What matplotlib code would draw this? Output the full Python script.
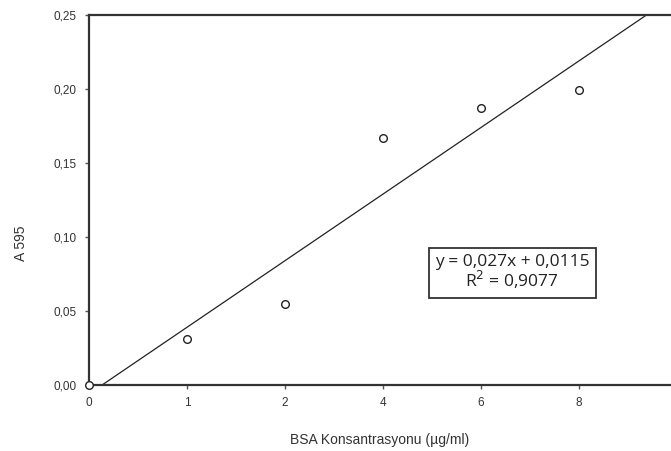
import numpy as np
import matplotlib
matplotlib.use("Agg")
import matplotlib.pyplot as plt

plt.rcParams['font.family'] = ['Liberation Sans', 'DejaVu Sans']

x_labels = ["0", "1", "2", "4", "6", "8"]
absorbance = [0.0, 0.031, 0.055, 0.167, 0.187, 0.199]
y_ticks = [0.00, 0.05, 0.10, 0.15, 0.20, 0.25]
y_tick_labels = ["0,00", "0,05", "0,10", "0,15", "0,20", "0,25"]
equation_text = "y = 0,027x + 0,0115\nR$^2$ = 0,9077"

pos = np.arange(len(x_labels))
slope, intercept = np.polyfit(pos, absorbance, 1)

fig = plt.figure(figsize=(6.71, 4.51), dpi=100)
ax = fig.add_axes([89/671, 66/451, 1 - 89/671, 370/451])

xmax = (671 - 89) / 98.0
xx = np.array([0, xmax])
ax.plot(xx, slope * xx + intercept, color='#222222', lw=0.9)
ax.plot(pos, absorbance, linestyle='none', marker='o', ms=5.5,
        mfc='white', mec='#222222', mew=1.0, clip_on=False, zorder=5)

ax.set_xlim(0, xmax)
ax.set_ylim(0, 0.25)
ax.set_xticks(pos)
ax.set_xticklabels(x_labels)
ax.set_yticks(y_ticks)
ax.set_yticklabels(y_tick_labels)
ax.spines['right'].set_visible(False)
for s in ['left', 'bottom', 'top']:
    ax.spines[s].set_linewidth(1.6)
    ax.spines[s].set_color('#333333')
ax.tick_params(axis='both', direction='out', length=3, width=1, colors='#555555',
               labelsize=8.5, labelcolor='#333333', pad=6)

ax.set_xlabel("BSA Konsantrasyonu (µg/ml)", fontsize=10, color='#333333', labelpad=17)
ax.set_ylabel("A 595", fontsize=10, color='#333333')
ax.yaxis.set_label_coords(-0.105, 0.384)

ax.text(0.727, 0.303, equation_text, transform=ax.transAxes, ha='center', va='center',
        fontsize=12.5, color='#222222', family=['Open Sans', 'DejaVu Sans'], linespacing=0.95,
        bbox=dict(boxstyle='square,pad=0.35', fc='white', ec='#333333', lw=1.3))

fig.savefig("out.png", dpi=100)
